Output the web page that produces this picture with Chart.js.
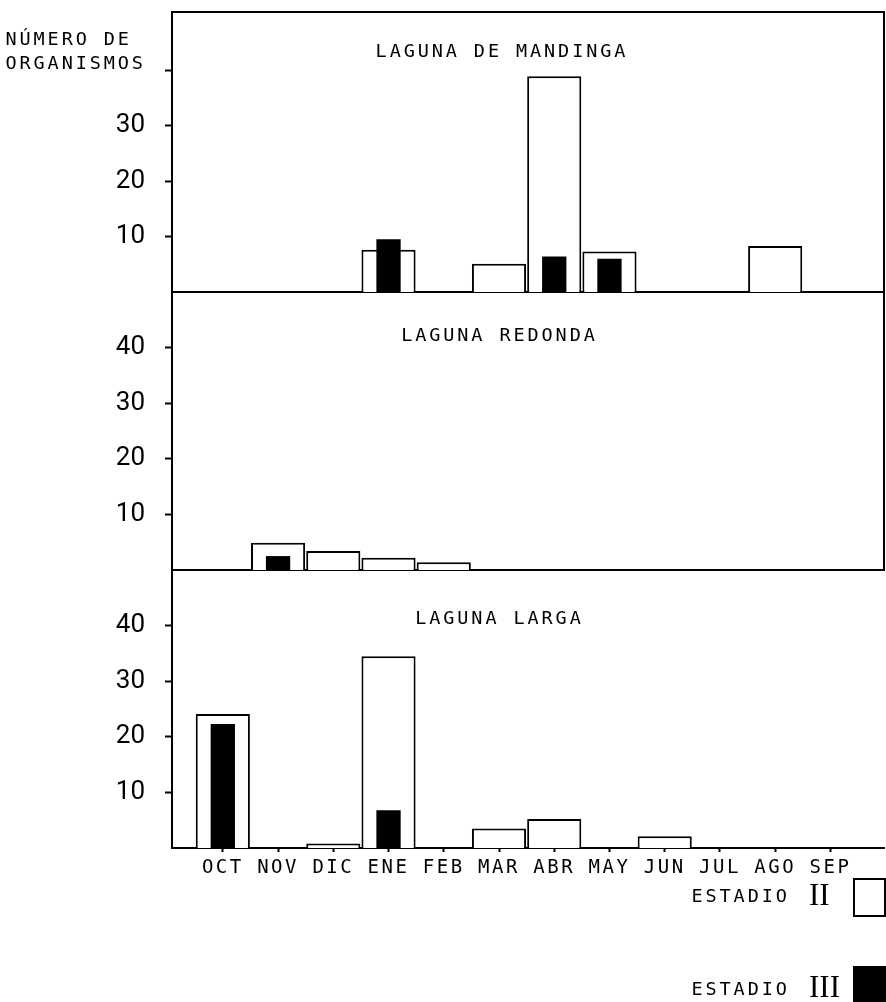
<!DOCTYPE html>
<html>
<head>
<meta charset="utf-8">
<script src="https://cdn.jsdelivr.net/npm/chart.js@4"></script>
<style>
html,body{margin:0;padding:0;background:#fff;}
#wrap{position:relative;width:886px;height:1002px;overflow:hidden;background:#fff;}
canvas{position:absolute;left:0;top:-40px;}
.m{position:absolute;font-family:'DejaVu Sans Mono',monospace;font-size:18.5px;line-height:1;letter-spacing:2.9px;color:#000;white-space:nowrap;}
.c{transform:translate(-50%,-50%);padding-left:2.9px;}
.s{position:absolute;font-family:'Liberation Serif','DejaVu Serif',serif;font-size:31px;line-height:1;color:#000;white-space:nowrap;}
.box{position:absolute;box-sizing:border-box;border:2px solid #000;}
</style>
</head>
<body>
<div id="wrap">
  <canvas id="c1" width="886" height="1042"></canvas>
  <canvas id="c2" width="886" height="1042"></canvas>
  <canvas id="c3" width="886" height="1042"></canvas>
  <div class="m" id="ylab1" style="left:5.5px;top:29.5px;"></div>
  <div class="m" id="ylab2" style="left:5.5px;top:53.5px;"></div>
  <div class="m c" id="t1" style="left:500.5px;top:50.5px;"></div>
  <div class="m c" id="t2" style="left:498px;top:335px;"></div>
  <div class="m c" id="t3" style="left:498px;top:618px;"></div>
  <div class="m" id="lg1" style="left:691.5px;top:886.5px;"></div>
  <div class="s" id="lg1b" style="left:809px;top:878.5px;"></div>
  <div class="box" style="left:853px;top:878px;width:33px;height:39px;background:#fff;"></div>
  <div class="m" id="lg2" style="left:691.5px;top:980px;"></div>
  <div class="s" id="lg2b" style="left:809px;top:971px;"></div>
  <div class="box" style="left:853px;top:966px;width:33px;height:40px;background:#000;"></div>
</div>
<script>
// ---- data ----
const months = ['OCT','NOV','DIC','ENE','FEB','MAR','ABR','MAY','JUN','JUL','AGO','SEP'];
const yTickValues = [10, 20, 30, 40];
const panelTitles = ['LAGUNA DE MANDINGA', 'LAGUNA REDONDA', 'LAGUNA LARGA'];
const yAxisTitle = ['NÚMERO DE', 'ORGANISMOS'];
const seriesNames = ['ESTADIO II', 'ESTADIO III'];

const mandingaII  = [null, null, null, 7.6, null, 5.1, 38.9, 7.3, null, null, 8.3, null];
const mandingaIII = [null, null, null, 9.5, null, null, 6.4, 6.0, null, null, null, null];
const redondaII   = [null, 4.9, 3.4, 2.2, 1.4, null, null, null, null, null, null, null];
const redondaIII  = [null, 2.5, null, null, null, null, null, null, null, null, null, null];
const largaII     = [24.1, null, 0.8, 34.5, null, 3.5, 5.2, null, 2.1, null, null, null];
const largaIII    = [22.3, null, null, 6.8, null, null, null, null, null, null, null, null];

// ---- text ----
document.getElementById('ylab1').textContent = yAxisTitle[0];
document.getElementById('ylab2').textContent = yAxisTitle[1];
['t1','t2','t3'].forEach((id, i) => document.getElementById(id).textContent = panelTitles[i]);
document.getElementById('lg1').textContent = seriesNames[0].split(' ')[0];
document.getElementById('lg1b').textContent = seriesNames[0].split(' ')[1];
document.getElementById('lg2').textContent = seriesNames[1].split(' ')[0];
document.getElementById('lg2b').textContent = seriesNames[1].split(' ')[1];

// ---- layout config ----
const H = 1042, OFF = 40;
const INK = '#000';
const panels = [
  {id:'c1', II: mandingaII, III: mandingaIII, top: 12,  bottom: 292, max: 50.5, hide: [40], showX: false, frame: {top: true,  right: true}},
  {id:'c2', II: redondaII,  III: redondaIII,  top: 292, bottom: 570, max: 50,   hide: [],   showX: false, frame: {top: false, right: true}},
  {id:'c3', II: largaII,    III: largaIII,    top: 570, bottom: 848, max: 50,   hide: [],   showX: true,  frame: {top: false, right: false}}
];

const framePlugin = {
  id: 'frame',
  afterDraw(chart, args, opts) {
    const {ctx, chartArea: a} = chart;
    ctx.save();
    ctx.strokeStyle = INK; ctx.lineWidth = 2;
    ctx.beginPath();
    if (opts.top) { ctx.moveTo(a.left - 1, a.top); ctx.lineTo(a.right + 1, a.top); }
    if (opts.right) { ctx.moveTo(a.right, a.top); ctx.lineTo(a.right, a.bottom); }
    ctx.stroke();
    ctx.restore();
  }
};
// letter spacing only for the month labels of the x axis
const spacingPlugin = {
  id: 'spacing',
  afterLayout(chart) {
    const xs = chart.scales.x;
    if (!xs || xs._spaced) return;
    const orig = xs.drawLabels;
    xs.drawLabels = function (area) {
      const c = this.ctx;
      c.save();
      try { c.letterSpacing = '2.5px'; } catch (e) {}
      orig.call(this, area);
      c.restore();
    };
    xs._spaced = true;
  }
};

const toXY = arr => arr.map((v, i) => ({x: i, y: v}));

panels.forEach(p => {
  const xh = p.showX ? 40 : 0;
  new Chart(document.getElementById(p.id), {
    type: 'bar',
    data: {
      datasets: [
        {label: seriesNames[0], data: toXY(p.II), backgroundColor: '#fff', borderColor: INK, borderWidth: 2,
         borderSkipped: 'start', barPercentage: 0.98, categoryPercentage: 1, grouped: false, order: 2},
        {label: seriesNames[1], data: toXY(p.III), backgroundColor: INK, borderWidth: 0,
         barPercentage: 0.44, categoryPercentage: 1, grouped: false, order: 1}
      ]
    },
    options: {
      responsive: false, animation: false, devicePixelRatio: 1, events: [],
      layout: {padding: {top: p.top + OFF, bottom: H - (p.bottom + OFF) - xh, left: 0, right: 2}},
      plugins: {legend: {display: false}, tooltip: {enabled: false}, frame: p.frame},
      scales: {
        x: {
          type: 'linear', min: -0.92, max: 11.97, offset: false,
          afterBuildTicks: s => { s.ticks = months.map((m, i) => ({value: i})); },
          afterFit: s => { s.height = xh; },
          grid: {display: p.showX, offset: false, drawOnChartArea: false, drawTicks: p.showX, tickLength: 4, tickWidth: 2, color: INK},
          border: {display: true, color: INK, width: 2},
          ticks: {display: p.showX, autoSkip: false, maxRotation: 0, padding: 5, color: INK,
                  font: {family: "'DejaVu Sans Mono', monospace", size: 19},
                  callback: v => months[v]}
        },
        y: {
          min: 0, max: p.max,
          afterBuildTicks: s => { s.ticks = yTickValues.map(v => ({value: v})); },
          afterFit: s => { s.width = 172; },
          grid: {drawOnChartArea: false, tickLength: 7, tickWidth: 2, color: INK},
          border: {display: true, color: INK, width: 2},
          ticks: {padding: 20, color: INK,
                  font: {family: "Roboto, 'DejaVu Sans', sans-serif", size: 26, weight: 400},
                  callback: v => p.hide.includes(v) ? '' : String(v)}
        }
      }
    },
    plugins: [framePlugin, spacingPlugin]
  });
});
</script>
</body>
</html>
